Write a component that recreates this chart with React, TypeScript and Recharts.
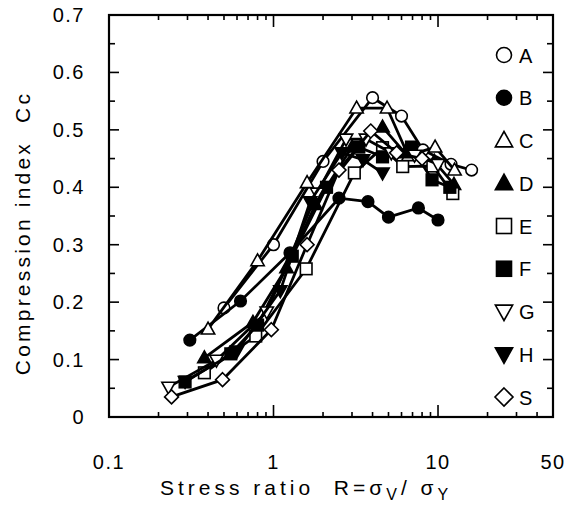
import React from 'react';
import { ScatterChart, Scatter, XAxis, YAxis } from 'recharts';

// ---- data (stress ratio R, compression index Cc) ----
const rA = [0.5, 1.0, 2.0, 4.0, 6.0, 8.1, 12.0, 16.0];
const cA = [0.19, 0.3, 0.445, 0.556, 0.524, 0.465, 0.44, 0.43];
const rB = [0.31, 0.63, 1.26, 2.5, 3.75, 5.0, 7.6, 10.0];
const cB = [0.134, 0.202, 0.286, 0.381, 0.375, 0.348, 0.364, 0.343];
const rC = [0.4, 0.8, 1.6, 3.2, 4.9, 6.6, 9.6, 12.6];
const cC = [0.153, 0.272, 0.408, 0.538, 0.538, 0.455, 0.47, 0.43];
const rD = [0.38, 0.75, 1.2, 1.8, 3.0, 4.6, 6.3, 9.5, 12.5];
const cD = [0.103, 0.165, 0.26, 0.37, 0.47, 0.505, 0.46, 0.445, 0.405];
const rE = [0.38, 0.78, 1.58, 3.1, 4.6, 6.1, 9.3, 12.3];
const cE = [0.077, 0.141, 0.258, 0.425, 0.469, 0.436, 0.437, 0.389];
const rF = [0.29, 0.55, 0.8, 1.3, 2.1, 3.3, 4.6, 6.9, 9.2, 11.8];
const cF = [0.061, 0.11, 0.16, 0.28, 0.4, 0.47, 0.453, 0.47, 0.413, 0.4];
const rG = [0.23, 0.45, 0.91, 1.84, 2.76, 3.65, 5.2, 7.2, 10.0];
const cG = [0.052, 0.099, 0.183, 0.39, 0.484, 0.484, 0.46, 0.456, 0.44];
const rH = [0.29, 0.6, 1.1, 1.67, 2.6, 3.5, 4.6];
const cH = [0.062, 0.115, 0.22, 0.375, 0.46, 0.448, 0.425];
const rS = [0.24, 0.49, 0.97, 1.6, 2.5, 3.9, 5.6, 8.0];
const cS = [0.035, 0.065, 0.152, 0.3, 0.43, 0.498, 0.46, 0.45];

const seriesNames = ['A', 'B', 'C', 'D', 'E', 'F', 'G', 'H', 'S'];
const seriesR = [rA, rB, rC, rD, rE, rF, rG, rH, rS];
const seriesC = [cA, cB, cC, cD, cE, cF, cG, cH, cS];
const seriesShape = ['circle', 'circle', 'up', 'up', 'square', 'square', 'down', 'down', 'diamond'];
const seriesFilled = [false, true, false, true, false, true, false, true, false];

const xDomain = [0.1, 50];
const yDomain = [0, 0.7];
const xTicks = [0.1, 0.2, 0.3, 0.4, 0.5, 0.6, 0.7, 0.8, 0.9, 1, 2, 3, 4, 5, 6, 7, 8, 9, 10, 20, 30, 40, 50];
const xLabelTicks = [0.1, 1, 10, 50];
const xMajorTicks = [1, 10];
const yTicks = [0, 0.05, 0.1, 0.15, 0.2, 0.25, 0.3, 0.35, 0.4, 0.45, 0.5, 0.55, 0.6, 0.65, 0.7];
const yLabelTicks = [0, 0.1, 0.2, 0.3, 0.4, 0.5, 0.6, 0.7];

const FONT = '"Liberation Sans", Arial, Helvetica, sans-serif';

// chart geometry
const W = 575;
const H = 505;
const chartMargin = { top: 15, right: 22, bottom: 0, left: 0 };
const Y_AXIS_W = 109;
const X_AXIS_H = 88;
const plotLeft = chartMargin.left + Y_AXIS_W;
const plotRight = W - chartMargin.right;
const plotTop = chartMargin.top;
const plotBottom = H - chartMargin.bottom - X_AXIS_H;
const lx0 = Math.log10(xDomain[0]);
const lx1 = Math.log10(xDomain[1]);
const frameX = (v: number) => plotLeft + ((Math.log10(v) - lx0) / (lx1 - lx0)) * (plotRight - plotLeft);
const frameY = (v: number) => plotBottom - ((v - yDomain[0]) / (yDomain[1] - yDomain[0])) * (plotBottom - plotTop);

const seriesData = seriesR.map((r, k) => r.map((x, i) => ({ x, y: seriesC[k][i] })));

function Marker({ cx, cy, shape, filled, s }: { cx: number; cy: number; shape: string; filled: boolean; s: number }) {
  const fill = filled ? '#000' : '#fff';
  const common = { fill, stroke: '#000', strokeWidth: 1.6 };
  if (shape === 'circle') return <circle cx={cx} cy={cy} r={s} {...common} />;
  if (shape === 'square') return <rect x={cx - s} y={cy - s} width={2 * s} height={2 * s} {...common} />;
  if (shape === 'up')
    return <polygon points={`${cx},${cy - s * 1.2} ${cx + s * 1.15},${cy + s * 0.85} ${cx - s * 1.15},${cy + s * 0.85}`} {...common} />;
  if (shape === 'down')
    return <polygon points={`${cx},${cy + s * 1.2} ${cx + s * 1.15},${cy - s * 0.85} ${cx - s * 1.15},${cy - s * 0.85}`} {...common} />;
  return <polygon points={`${cx},${cy - s * 1.2} ${cx + s * 1.2},${cy} ${cx},${cy + s * 1.2} ${cx - s * 1.2},${cy}`} {...common} />;
}

const seriesShapeFns = seriesNames.map((_, i) => (p: any) => (
  <Marker cx={p.cx} cy={p.cy} shape={seriesShape[i]} filled={seriesFilled[i]} s={5.8} />
));

const textStyle = { fontFamily: FONT, fontSize: 20, letterSpacing: 1.5, fill: '#000' };
const xTitleStyle = { ...textStyle, fontSize: 21, letterSpacing: 4, whiteSpace: 'pre' as const };
const yTitleStyle = { ...textStyle, fontSize: 21, letterSpacing: 3.2, whiteSpace: 'pre' as const };
const TW = 1.6;
const axisLineStyle = { stroke: '#000', strokeWidth: 2 };
const seriesLine = { stroke: '#000', strokeWidth: 2.8 };

const isMajorY = (v: number) => yLabelTicks.some((t) => Math.abs(t - v) < 1e-9);

const BottomTick = (props: any) => {
  const { x, y, payload } = props;
  const v = payload.value;
  return (
    <g>
      {xLabelTicks.includes(v) && (
        <text x={x} y={y + 52} textAnchor="middle" style={textStyle}>
          {String(v)}
        </text>
      )}
    </g>
  );
};

const LeftTick = (props: any) => {
  const { x, y, payload } = props;
  const v = payload.value;
  return (
    <g>
      {isMajorY(v) && (
        <text x={x - 24} y={y + 7} textAnchor="end" style={textStyle}>
          {v === 0 ? '0' : v.toFixed(1)}
        </text>
      )}
    </g>
  );
};

function Overlay() {
  const innerX = xTicks.filter((v) => v > xDomain[0] && v < xDomain[1]);
  const innerY = yTicks.filter((v) => v > yDomain[0] && v < yDomain[1]);
  return (
    <svg width={W} height={H} style={{ position: 'absolute', left: 0, top: 0, pointerEvents: 'none' }}>
      <rect
        x={plotLeft}
        y={plotTop}
        width={plotRight - plotLeft}
        height={plotBottom - plotTop}
        fill="none"
        stroke="#000"
        strokeWidth={2.2}
      />
      {innerX.map((v) => {
        const px = frameX(v);
        const len = xMajorTicks.includes(v) ? 12 : 5;
        return (
          <g key={`x${v}`}>
            <rect x={px - TW / 2} y={plotBottom - len} width={TW} height={len} fill="#000" />
            <rect x={px - TW / 2} y={plotTop} width={TW} height={len} fill="#000" />
          </g>
        );
      })}
      {innerY.map((v) => {
        const py = frameY(v);
        const len = isMajorY(v) ? 10 : 6;
        return (
          <g key={`y${v}`}>
            <rect x={plotLeft} y={py - TW / 2} width={len} height={TW} fill="#000" />
            <rect x={plotRight - len} y={py - TW / 2} width={len} height={TW} fill="#000" />
          </g>
        );
      })}
      <text x={160} y={495} style={xTitleStyle}>
        {'Stress ratio  R=σ'}
        <tspan dy={5} fontSize={16}>V</tspan>
        <tspan dy={-5}>{'/ σ'}</tspan>
        <tspan dy={5} fontSize={16}>Y</tspan>
      </text>
      <text x={30} y={233} textAnchor="middle" transform="rotate(-90, 30, 233)" style={yTitleStyle}>
        {'Compression index  Cc'}
      </text>
      {seriesNames.map((name, i) => {
        const cy = 55 + i * 42.75;
        return (
          <g key={name}>
            <Marker cx={504} cy={cy} shape={seriesShape[i]} filled={seriesFilled[i]} s={7.5} />
            <text x={519} y={cy + 7.5} style={textStyle}>
              {name}
            </text>
          </g>
        );
      })}
    </svg>
  );
}

export default function App() {
  return (
    <div style={{ position: 'absolute', left: 0, top: 0, width: W, height: H }}>
      <ScatterChart width={W} height={H} margin={chartMargin}>
        <XAxis
          xAxisId="bottom"
          dataKey="x"
          type="number"
          scale="log"
          domain={xDomain}
          ticks={xTicks}
          interval={0}
          allowDataOverflow
          height={X_AXIS_H}
          tickSize={0}
          tickMargin={0}
          tickLine={false}
          axisLine={axisLineStyle}
          tick={<BottomTick />}
        />
        <YAxis
          yAxisId="left"
          dataKey="y"
          type="number"
          domain={yDomain}
          ticks={yTicks}
          interval={0}
          allowDataOverflow
          width={Y_AXIS_W}
          tickSize={0}
          tickMargin={0}
          tickLine={false}
          axisLine={axisLineStyle}
          tick={<LeftTick />}
        />
        {seriesNames.map((name, i) => (
          <Scatter
            key={name}
            name={name}
            xAxisId="bottom"
            yAxisId="left"
            data={seriesData[i]}
            isAnimationActive={false}
            line={seriesLine}
            fill="#000"
            shape={seriesShapeFns[i]}
          />
        ))}
      </ScatterChart>
      <Overlay />
    </div>
  );
}
